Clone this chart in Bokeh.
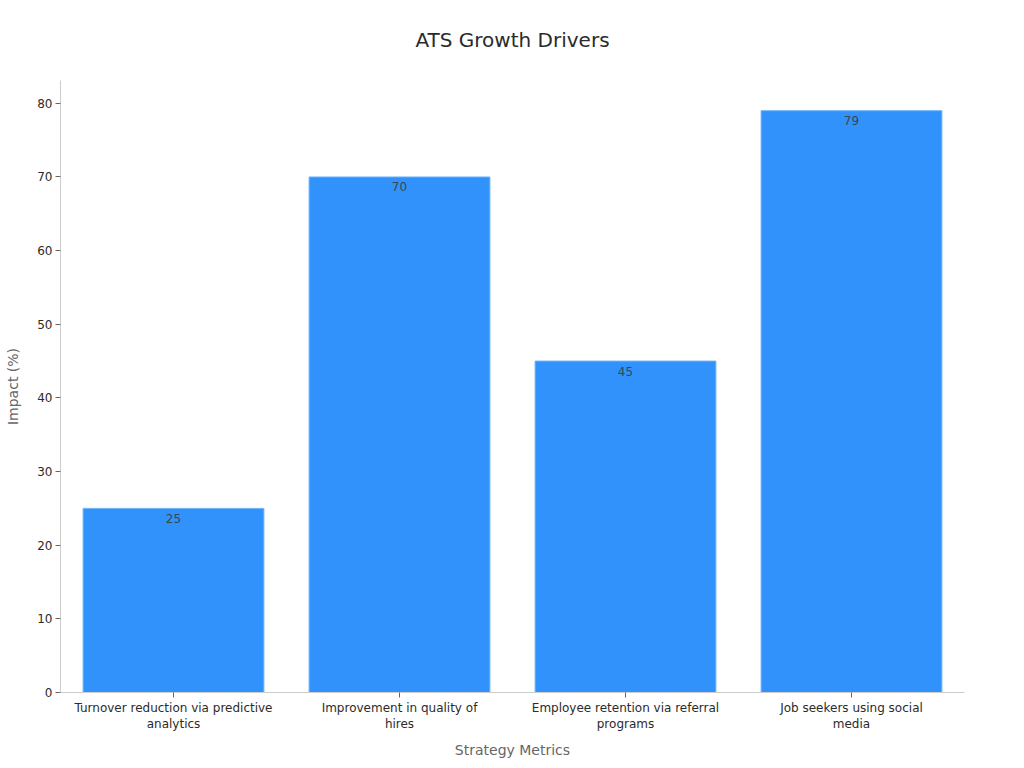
from bokeh.plotting import figure
from bokeh.models import ColumnDataSource, Range1d, FactorRange
from bokeh.core.properties import value
from bokeh.embed import file_html
from bokeh.resources import INLINE

categories = ["Turnover reduction via predictive\nanalytics", "Improvement in quality of\nhires",
              "Employee retention via referral\nprograms", "Job seekers using social\nmedia"]
values = [25, 70, 45, 79]
y_ticks = [0, 10, 20, 30, 40, 50, 60, 70, 80]
chart_title = "ATS Growth Drivers"
x_title = "Strategy Metrics"
y_title = "Impact (%)"

FONT = "DejaVu Sans"
source = ColumnDataSource(dict(cat=categories, val=values, txt=[str(v) for v in values]))

p = figure(width=1016, height=761, output_backend="svg", toolbar_location=None,
           x_range=FactorRange(*categories, range_padding=0, factor_padding=0, group_padding=0),
           y_range=Range1d(0, 83.1),
           min_border_left=60, min_border_right=52, min_border_top=80, min_border_bottom=60)
p.vbar(x="cat", top="val", width=0.8, source=source, fill_color="#3092FA",
       line_color="#6DB2FB", line_width=1)
p.text(x="cat", y="val", text="txt", source=source, text_align="center",
       text_baseline="middle", y_offset=10, text_font=value(FONT),
       text_font_size="12px", text_color="#3C4650")
p.title.text = chart_title
p.title.align = "center"
p.title.vertical_align = "top"
p.title.text_font = FONT
p.title.text_font_size = "20px"
p.title.text_font_style = "normal"
p.title.text_color = "#2b2b2b"
p.title.offset = 0
p.title.standoff = 53

p.grid.visible = False
p.outline_line_color = None
for ax in (p.xaxis[0], p.yaxis[0]):
    ax.axis_line_color = "#CCCCCC"
    ax.axis_line_width = 1
    ax.major_tick_line_color = "#666666"
    ax.major_tick_line_width = 1
    ax.major_tick_in = 0
    ax.major_tick_out = 5
    ax.minor_tick_line_color = None
    ax.major_label_text_font = FONT
    ax.major_label_text_font_size = "12px"
    ax.major_label_text_color = "#2b2b2b"
    ax.axis_label_text_font = FONT
    ax.axis_label_text_font_size = "14px"
    ax.axis_label_text_font_style = "normal"
    ax.axis_label_text_color = "#666666"
p.yaxis.ticker = y_ticks
p.xaxis.axis_label = x_title
p.yaxis.axis_label = y_title
p.xaxis.major_label_standoff = 3
p.yaxis.major_label_standoff = 3
p.xaxis.axis_label_standoff = 8
p.yaxis.axis_label_standoff = 13
p.xaxis.major_label_orientation = "horizontal"

open("out.html", "w").write(file_html(p, INLINE))
